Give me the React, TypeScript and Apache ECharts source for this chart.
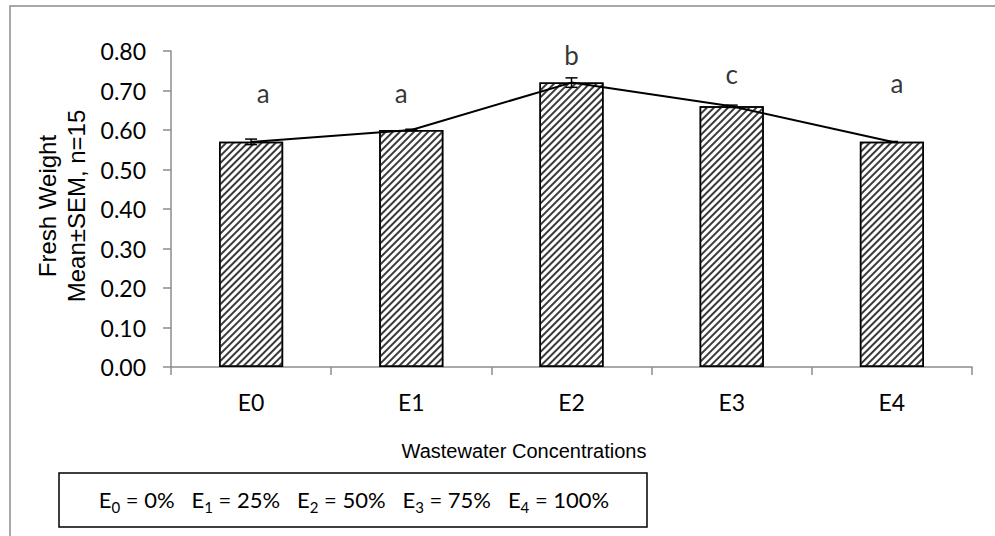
import React, { useEffect, useRef } from "react";
import * as echarts from "echarts";

const categories = ["E0", "E1", "E2", "E3", "E4"];
const means = [0.57, 0.6, 0.72, 0.66, 0.57];
const sem = [0.007, 0.002, 0.012, 0.003, 0.001];
const letters = ["a", "a", "b", "c", "a"];
const letterY = [0.694, 0.694, 0.79, 0.742, 0.719];
const yTicks = { min: 0, max: 0.8, interval: 0.1 };
const legendSubs = ["0", "1", "2", "3", "4"];
const legendPcts = ["0%", "25%", "50%", "75%", "100%"];
const xTitle = "Wastewater Concentrations";
const yTitle = "Fresh Weight\nMean±SEM, n=15";

// style-only offsets for the significance letters (px)
const letterDx = [12, -10, 0, 0, 5];

const SANS = "Lato, 'Open Sans', sans-serif";
const ARIAL = "'Liberation Sans', Arial, sans-serif";

export default function App() {
  const ref = useRef<HTMLDivElement>(null);
  useEffect(() => {
    if (!ref.current) return;
    const chart = echarts.init(ref.current, null, { renderer: "svg" });
    const legendText = legendSubs
      .map((s, i) => `{m|E}{s|${s}}{m| = ${legendPcts[i]}}`)
      .join("{m|   }");
    chart.setOption({
      animation: false,
      backgroundColor: "#fff",
      grid: { left: 171, right: 23, top: 51, bottom: 169, containLabel: false },
      xAxis: {
        type: "category",
        data: categories,
        boundaryGap: true,
        axisLine: { lineStyle: { color: "#8c8c8c", width: 1.5 } },
        axisTick: { show: true, length: 8, alignWithLabel: false, lineStyle: { color: "#8c8c8c", width: 1.5 } },
        axisLabel: { color: "#000", fontFamily: SANS, fontSize: 23, margin: 23 },
        splitLine: { show: false },
      },
      yAxis: {
        type: "value",
        min: yTicks.min,
        max: yTicks.max,
        interval: yTicks.interval,
        axisLine: { show: true, lineStyle: { color: "#8c8c8c", width: 1.5 } },
        axisTick: { show: true, length: 8, lineStyle: { color: "#8c8c8c", width: 1.5 } },
        axisLabel: {
          color: "#000",
          fontFamily: SANS,
          fontSize: 23,
          margin: 25,
          formatter: (v: number) => v.toFixed(2),
        },
        splitLine: { show: false },
      },
      graphic: [
        {
          type: "rect",
          silent: true,
          z: -10,
          shape: { x: 10, y: 6, width: 1100, height: 700 },
          style: { fill: "none", stroke: "#8c8c8c", lineWidth: 1.5 },
        },
        {
          type: "text",
          x: 62,
          y: 206,
          rotation: Math.PI / 2,
          style: {
            text: yTitle,
            fontFamily: ARIAL,
            fontSize: 24,
            lineHeight: 29,
            fill: "#000",
            align: "center",
            verticalAlign: "middle",
          },
        },
        {
          type: "text",
          x: 524,
          y: 451,
          style: {
            text: xTitle,
            fontFamily: ARIAL,
            fontSize: 20,
            fill: "#000",
            align: "center",
            verticalAlign: "middle",
          },
        },
        {
          type: "rect",
          shape: { x: 59, y: 473, width: 588, height: 54 },
          style: { fill: "#fff", stroke: "#000", lineWidth: 1.5 },
        },
        {
          type: "text",
          x: 354,
          y: 499,
          style: {
            text: legendText,
            align: "center",
            verticalAlign: "middle",
            fill: "#000",
            rich: {
              m: { fontFamily: SANS, fontSize: 22, fill: "#000" },
              s: { fontFamily: SANS, fontSize: 15, fill: "#000", padding: [16, 0, 0, 0] },
            },
          },
        },
      ],
      series: [
        {
          type: "bar",
          data: means,
          barCategoryGap: "60%",
          itemStyle: {
            color: "#fff",
            borderColor: "#000",
            borderWidth: 1.5,
            decal: {
              symbol: "rect",
              symbolSize: 1,
              color: "#3a3a3a",
              backgroundColor: "#ffffff",
              dashArrayX: [1, 0],
              dashArrayY: [1.6, 2.4],
              rotation: -Math.PI / 4,
            },
          },
          z: 2,
        },
        {
          type: "line",
          data: means,
          symbol: "none",
          lineStyle: { color: "#000", width: 2 },
          z: 3,
        },
        {
          type: "custom",
          data: categories.map((_, i) => [i, means[i], sem[i]]),
          encode: { x: 0, y: 1 },
          z: 4,
          renderItem: (params: any, api: any) => {
            const i = api.value(0);
            const m = api.value(1);
            const e = api.value(2);
            const hi = api.coord([i, m + e]);
            const lo = api.coord([i, m - e]);
            const w = 6;
            const st = { stroke: "#000", lineWidth: 1.5 };
            return {
              type: "group",
              children: [
                { type: "line", shape: { x1: hi[0], y1: hi[1], x2: lo[0], y2: lo[1] }, style: st },
                { type: "line", shape: { x1: hi[0] - w, y1: hi[1], x2: hi[0] + w, y2: hi[1] }, style: st },
                { type: "line", shape: { x1: lo[0] - w, y1: lo[1], x2: lo[0] + w, y2: lo[1] }, style: st },
              ],
            };
          },
        },
        {
          type: "scatter",
          symbol: "circle",
          symbolSize: 0.1,
          itemStyle: { color: "rgba(0,0,0,0)" },
          z: 5,
          data: categories.map((_, i) => ({
            value: [i, letterY[i]],
            label: { offset: [letterDx[i], 0] },
          })),
          label: {
            show: true,
            position: "inside",
            formatter: (p: any) => letters[p.dataIndex],
            fontFamily: SANS,
            fontSize: 26,
            color: "#000",
          },
        },
      ],
    });
    return () => chart.dispose();
  }, []);
  return (
    <div
      ref={ref}
      style={{ position: "absolute", left: 0, top: 0, width: 995, height: 536 }}
    />
  );
}
